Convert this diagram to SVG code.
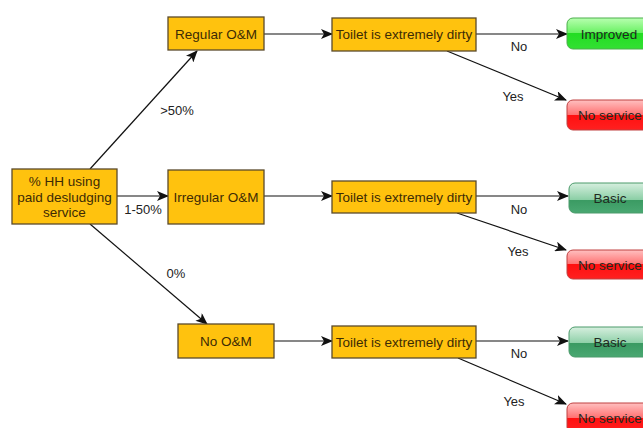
<svg xmlns="http://www.w3.org/2000/svg" width="643" height="428" viewBox="0 0 643 428">
<defs>
<style>
.box{fill:#FFC20E;stroke:#5b4a2b;stroke-width:1.3}
.t{font-family:"Liberation Sans",Arial,sans-serif;font-size:13.5px;fill:#3d2b05;text-anchor:middle}
.lbl{font-family:"Liberation Sans",Arial,sans-serif;font-size:13px;fill:#222;text-anchor:middle}
.ot{font-family:"Liberation Sans",Arial,sans-serif;font-size:13.5px;fill:#1f2a1f;text-anchor:middle}
.c{stroke:#111;stroke-width:1.2;fill:none;marker-end:url(#ah)}
</style>
<marker id="ah" viewBox="0 0 12 10" refX="11" refY="5" markerWidth="12" markerHeight="10" markerUnits="userSpaceOnUse" orient="auto">
<path d="M0,0 L12,5 L0,10 L3,5 Z" fill="#111"/>
</marker>
<linearGradient id="gGreen" x1="0" y1="0" x2="0" y2="1">
<stop offset="0" stop-color="#b8ffb0"/>
<stop offset="0.5" stop-color="#66f060"/>
<stop offset="0.5" stop-color="#22dd22"/>
<stop offset="1" stop-color="#33e033"/>
</linearGradient>
<linearGradient id="gBasic" x1="0" y1="0" x2="0" y2="1">
<stop offset="0" stop-color="#d6efdf"/>
<stop offset="0.55" stop-color="#8ccfa6"/>
<stop offset="0.55" stop-color="#3a9a62"/>
<stop offset="1" stop-color="#4aa872"/>
</linearGradient>
<linearGradient id="gRed" x1="0" y1="0" x2="0" y2="1">
<stop offset="0" stop-color="#ffc0c0"/>
<stop offset="0.5" stop-color="#ff7070"/>
<stop offset="0.5" stop-color="#ff1010"/>
<stop offset="1" stop-color="#ff2020"/>
</linearGradient>
</defs>

<g id="connectors">
<line class="c" x1="90" y1="169" x2="197" y2="51"/>
<line class="c" x1="117" y1="196" x2="168" y2="196"/>
<line class="c" x1="90" y1="224" x2="207" y2="324"/>
<line class="c" x1="264" y1="34" x2="332" y2="34"/>
<line class="c" x1="264" y1="196" x2="332" y2="196"/>
<line class="c" x1="274" y1="341" x2="332" y2="341"/>
<line class="c" x1="476" y1="34" x2="567" y2="34"/>
<line class="c" x1="447" y1="51" x2="566" y2="100"/>
<line class="c" x1="476" y1="196" x2="568" y2="196"/>
<line class="c" x1="457" y1="213" x2="566" y2="250"/>
<line class="c" x1="476" y1="341" x2="568" y2="341"/>
<line class="c" x1="458" y1="358" x2="566" y2="404"/>
<text class="lbl" x="177" y="115">&gt;50%</text>
<text class="lbl" x="143" y="214">1-50%</text>
<text class="lbl" x="176" y="278">0%</text>
<text class="lbl" x="519" y="51">No</text>
<text class="lbl" x="513" y="101">Yes</text>
<text class="lbl" x="519" y="214">No</text>
<text class="lbl" x="518" y="256">Yes</text>
<text class="lbl" x="519" y="358">No</text>
<text class="lbl" x="514" y="406">Yes</text>
</g>

<g id="root">
<rect class="box" x="12" y="169" width="105" height="55"/>
<text class="t" x="64.5" y="186">% HH using</text>
<text class="t" x="64.5" y="201.5">paid desludging</text>
<text class="t" x="64.5" y="217">service</text>
</g>

<g id="regular">
<rect class="box" x="168" y="17" width="96" height="33"/>
<text class="t" x="216" y="38.5">Regular O&amp;M</text>
</g>
<g id="irregular">
<rect class="box" x="168" y="170" width="96" height="54"/>
<text class="t" x="216" y="201.5">Irregular O&amp;M</text>
</g>
<g id="noom">
<rect class="box" x="178" y="324" width="96" height="34"/>
<text class="t" x="226" y="345.5">No O&amp;M</text>
</g>

<g id="toilet1">
<rect class="box" x="332" y="18" width="144" height="33"/>
<text class="t" x="404" y="39">Toilet is extremely dirty</text>
</g>
<g id="toilet2">
<rect class="box" x="332" y="181" width="144" height="32"/>
<text class="t" x="404" y="201.5">Toilet is extremely dirty</text>
</g>
<g id="toilet3">
<rect class="box" x="332" y="326" width="144" height="32"/>
<text class="t" x="404" y="346.5">Toilet is extremely dirty</text>
</g>

<g id="improved">
<rect x="567" y="18" width="90" height="31" rx="6" fill="url(#gGreen)" stroke="#4caf4c" stroke-width="1"/>
<text class="ot" x="609" y="38.5">Improved</text>
</g>
<g id="noservice1">
<rect x="567" y="100" width="90" height="30" rx="6" fill="url(#gRed)" stroke="#c04040" stroke-width="1"/>
<text class="ot" x="610" y="120" fill="#5a1a1a">No service</text>
</g>
<g id="basic1">
<rect x="569" y="183" width="90" height="30" rx="6" fill="url(#gBasic)" stroke="#4a9a6a" stroke-width="1"/>
<text class="ot" x="610" y="202.5">Basic</text>
</g>
<g id="noservice2">
<rect x="567" y="250" width="90" height="29" rx="6" fill="url(#gRed)" stroke="#c04040" stroke-width="1"/>
<text class="ot" x="610" y="269.5">No service</text>
</g>
<g id="basic2">
<rect x="569" y="327" width="90" height="30" rx="6" fill="url(#gBasic)" stroke="#4a9a6a" stroke-width="1"/>
<text class="ot" x="610" y="346.5">Basic</text>
</g>
<g id="noservice3">
<rect x="567" y="403" width="90" height="30" rx="6" fill="url(#gRed)" stroke="#c04040" stroke-width="1"/>
<text class="ot" x="610" y="422.5">No service</text>
</g>
</svg>
